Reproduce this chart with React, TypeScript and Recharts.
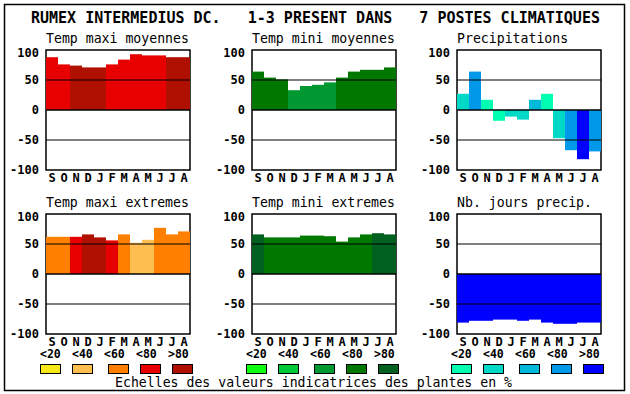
import { BarChart, Bar, Cell, XAxis, YAxis, ReferenceLine, ReferenceArea } from 'recharts';

const MONTHS = ['S', 'O', 'N', 'D', 'J', 'F', 'M', 'A', 'M', 'J', 'J', 'A'];
const Y_TICKS = [-100, -50, 0, 50, 100];
const SCALE_LABELS = ['<20', '<40', '<60', '<80', '>80'];

const RED_SCALE = ['#f8e818', '#ffbf50', '#ff8000', '#e80000', '#b01000'];
const GREEN_SCALE = ['#10ff10', '#00c838', '#009830', '#007800', '#006020'];
const BLUE_SCALE = ['#00ffb0', '#00d8c8', '#00b8d8', '#0098e8', '#0000ff'];

// valeurs + classe de couleur (0..4) par mois
const maxiMoyValues = [88, 76, 74, 71, 71, 76, 84, 93, 91, 91, 88, 88];
const maxiMoyClass = [3, 3, 4, 4, 4, 3, 3, 3, 3, 3, 4, 4];
const miniMoyValues = [64, 54, 51, 33, 40, 42, 46, 54, 64, 67, 67, 71];
const miniMoyClass = [3, 3, 3, 2, 2, 2, 2, 3, 3, 3, 3, 3];
const precipValues = [27, 64, 17, -18, -11, -16, 17, 27, -47, -67, -82, -69];
const precipClass = [1, 3, 0, 0, 1, 1, 2, 0, 1, 3, 4, 3];
const maxiExtValues = [62, 62, 62, 66, 61, 56, 66, 52, 57, 77, 66, 71];
const maxiExtClass = [2, 2, 3, 4, 4, 3, 2, 1, 1, 2, 2, 2];
const miniExtValues = [66, 61, 61, 61, 64, 64, 63, 54, 61, 66, 68, 66];
const miniExtClass = [4, 3, 3, 3, 3, 3, 3, 3, 3, 3, 4, 4];
const joursValues = [-81, -78, -78, -76, -76, -78, -76, -81, -83, -83, -81, -81];
const joursClass = [4, 4, 4, 4, 4, 4, 4, 4, 4, 4, 4, 4];

const FONT = '"DejaVu Sans Mono", monospace';
const Y_AXIS_W = 40;
const TOP_PAD = 5;
const PLOT_W = 144;
const PLOT_H = 120;

interface PanelProps {
    title: string;
    left: number;
    top: number;
    values: number[];
    classes: number[];
    palette: string[];
}

function Panel({ left, top, values, classes, palette }: PanelProps) {
    const data = MONTHS.map((m, i) => ({ month: m, value: values[i], cls: classes[i] }));
    return (
        <div style={{ position: 'absolute', left: left - Y_AXIS_W, top: top - TOP_PAD }}>
            <BarChart
                width={Y_AXIS_W + PLOT_W + 5}
                height={TOP_PAD + PLOT_H + 20}
                data={data}
                margin={{ top: TOP_PAD, right: 5, bottom: 0, left: 0 }}
                barCategoryGap={0}
            >
                <XAxis
                    dataKey="month"
                    interval={0}
                    axisLine={false}
                    tickLine={false}
                    tickSize={0}
                    tickMargin={3}
                    height={20}
                    tick={{ fill: '#000', fontSize: 12, fontWeight: 'bold', fontFamily: FONT }}
                />
                <YAxis
                    domain={[-100, 100]}
                    ticks={Y_TICKS}
                    width={Y_AXIS_W}
                    axisLine={false}
                    tickLine={false}
                    tickSize={0}
                    tickMargin={7}
                    tick={{ fill: '#000', fontSize: 12, fontWeight: 'bold', fontFamily: FONT }}
                />
                <Bar dataKey="value" isAnimationActive={false}>
                    {data.map((d, i) => (
                        <Cell key={i} fill={palette[d.cls]} />
                    ))}
                </Bar>
                <ReferenceLine y={50} stroke="#000" strokeWidth={1} />
                <ReferenceLine y={-50} stroke="#000" strokeWidth={1} />
                <ReferenceLine y={0} stroke="#000" strokeWidth={1.5} />
                <ReferenceArea y1={-100} y2={100} fill="none" stroke="#000" strokeWidth={1.5} />
            </BarChart>
        </div>
    );
}

const panels = [
    { title: 'Temp maxi moyennes', left: 46, top: 50, values: maxiMoyValues, classes: maxiMoyClass, palette: RED_SCALE },
    { title: 'Temp mini moyennes', left: 252, top: 50, values: miniMoyValues, classes: miniMoyClass, palette: GREEN_SCALE },
    { title: 'Precipitations', left: 457, top: 50, values: precipValues, classes: precipClass, palette: BLUE_SCALE },
    { title: 'Temp maxi extremes', left: 46, top: 214, values: maxiExtValues, classes: maxiExtClass, palette: RED_SCALE },
    { title: 'Temp mini extremes', left: 252, top: 214, values: miniExtValues, classes: miniExtClass, palette: GREEN_SCALE },
    { title: 'Nb. jours precip.', left: 457, top: 214, values: joursValues, classes: joursClass, palette: BLUE_SCALE },
];

const legends = [
    { left: 46, palette: RED_SCALE },
    { left: 252, palette: GREEN_SCALE },
    { left: 457, palette: BLUE_SCALE },
];

export default function App() {
    return (
        <div style={{ position: 'absolute', left: 0, top: 0, width: 630, height: 394, background: '#fff' }}>
            <svg width={630} height={394} style={{ position: 'absolute', left: 0, top: 0 }}>
                <rect x={4.5} y={4.5} width={620} height={386} fill="none" stroke="#000" strokeWidth={1.5} />
                <text x={31} y={23} fontFamily={FONT} fontSize={15} fontWeight="bold" style={{ whiteSpace: 'pre' }}>
                    {'RUMEX INTERMEDIUS DC.   1-3 PRESENT DANS   7 POSTES CLIMATIQUES'}
                </text>
                {panels.map((p) => (
                    <text key={p.title} x={p.left} y={p.top === 50 ? 43 : 207} fontFamily={FONT} fontSize={13.2}>
                        {p.title}
                    </text>
                ))}
                {legends.map((l) =>
                    SCALE_LABELS.map((lab, i) => (
                        <g key={`${l.left}-${i}`}>
                            <text x={l.left - 6 + 32 * i} y={358} fontFamily={FONT} fontSize={11.5} fontWeight="bold">
                                {lab}
                            </text>
                            <rect
                                x={l.left - 6 + 32 * i + (i >= 2 ? 4 : 0) + 0.5}
                                y={364.5}
                                width={20}
                                height={9}
                                fill={l.palette[i]}
                                stroke="#000"
                                strokeWidth={1}
                            />
                        </g>
                    ))
                )}
                <text x={115} y={387} fontFamily={FONT} fontSize={13.2}>
                    Echelles des valeurs indicatrices des plantes en %
                </text>
            </svg>
            {panels.map((p) => (
                <Panel key={p.title} {...p} />
            ))}
        </div>
    );
}
